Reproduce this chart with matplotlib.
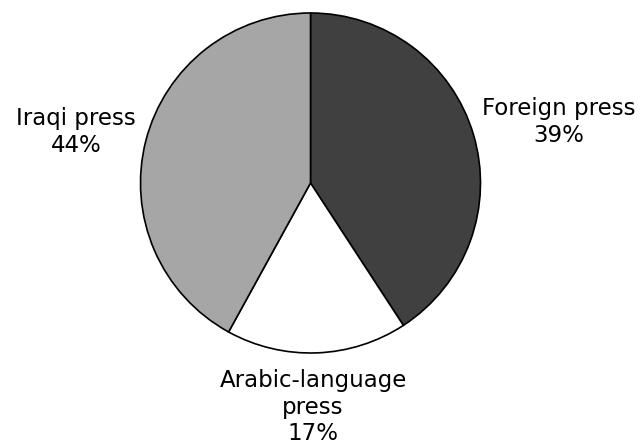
import matplotlib
matplotlib.use("Agg")
import matplotlib.pyplot as plt

# wedge sizes as drawn in the picture; the printed labels use the published shares
labels = ["Foreign press", "Arabic-language\npress", "Iraqi press"]
wedge_sizes = [40.8, 17.2, 42.0]
label_pcts = [39, 17, 44]
colors = ["#404040", "#ffffff", "#a6a6a6"]

fig = plt.figure(figsize=(6.4, 4.44), dpi=100)
ax = fig.add_axes([(310.5 - 170) / 640, (444 - 183 - 170) / 444, 340 / 640, 340 / 444])
ax.pie(wedge_sizes, colors=colors, startangle=90, counterclock=False,
       wedgeprops=dict(edgecolor="black", linewidth=1.2), radius=1.0)
ax.set_xlim(-1, 1)
ax.set_ylim(-1, 1)
ax.set_aspect("equal")
ax.axis("off")

# label positions in data units (pie radius = 1)
label_pos = [(1.462, 0.359), (0.015, -1.318), (-1.379, 0.30)]
for (x, y), name, pct in zip(label_pos, labels, label_pcts):
    ax.text(x, y, f"{name}\n{pct}%", ha="center", va="center", fontsize=16.5,
            linespacing=1.2, clip_on=False)

fig.savefig("out.png", dpi=100)
